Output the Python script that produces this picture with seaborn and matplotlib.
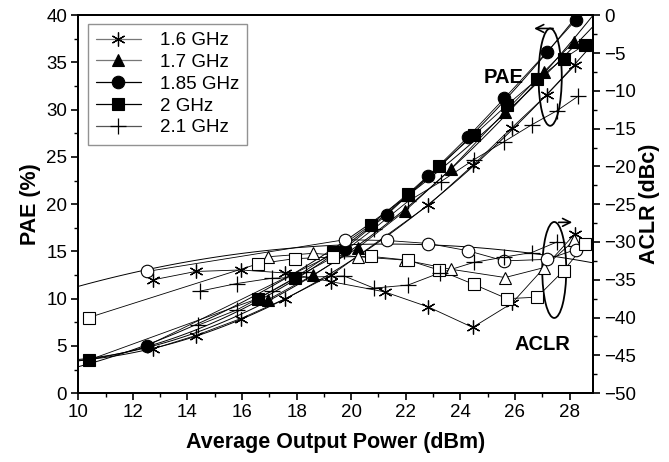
import numpy as np
import pandas as pd
import matplotlib
matplotlib.use("Agg")
import matplotlib.pyplot as plt
from matplotlib.lines import Line2D
from matplotlib.patches import Ellipse, FancyArrowPatch
import seaborn as sns

# ==============
# DADOS
# ==============

freq_labels = ["1.6 GHz", "1.7 GHz", "1.85 GHz", "2 GHz", "2.1 GHz"]

# PAE (%) - eixo esquerdo
x_pae_16 = [12.75, 14.30, 15.96, 17.59, 19.27, 22.83, 24.45, 25.89, 27.17, 28.20]
pae_16 = [4.7, 6.1, 7.9, 10.0, 12.5, 19.9, 24.1, 28.1, 31.6, 34.7]

x_pae_17 = [16.96, 18.60, 20.25, 21.98, 23.64, 25.64, 27.05, 28.17]
pae_17 = [9.9, 12.5, 15.4, 19.3, 23.7, 29.8, 34.0, 37.2]

x_pae_185 = [12.51, 19.76, 21.32, 22.83, 24.27, 25.61, 27.17, 28.23]
pae_185 = [5.0, 15.3, 18.9, 23.0, 27.1, 31.2, 36.1, 39.5]

x_pae_20 = [10.38, 16.57, 17.93, 19.34, 20.71, 22.08, 23.20, 24.49, 25.71, 26.81, 27.78, 28.57]
pae_20 = [3.5, 10.0, 12.2, 14.95, 17.8, 21.1, 24.0, 27.3, 30.5, 33.2, 35.4, 36.9]

x_pae_21 = [14.40, 15.80, 17.10, 18.36, 19.74, 20.83, 22.08, 23.29, 24.49, 25.59, 26.61, 27.54, 28.30]
pae_21 = [7.2, 8.8, 10.8, 12.85, 15.0, 17.4, 20.3, 22.4, 24.7, 26.6, 28.4, 29.9, 31.4]

# ACLR (dBc) - eixo direito
x_aclr_16 = [12.75, 14.30, 15.96, 17.57, 19.27, 21.23, 22.83, 24.45, 25.89, 28.20]
aclr_16 = [-35.0, -33.9, -33.7, -34.1, -35.25, -36.6, -38.6, -41.3, -38.1, -28.9]

x_aclr_17 = [16.96, 18.60, 20.25, 21.98, 23.64, 25.64, 27.05, 28.17]
aclr_17 = [-31.95, -31.5, -31.95, -32.4, -33.6, -34.7, -33.4, -29.8]

x_aclr_185 = [12.51, 19.76, 21.32, 22.83, 24.27, 25.61, 27.17, 28.23]
aclr_185 = [-33.9, -29.7, -29.8, -30.2, -31.15, -32.5, -32.3, -31.0]

x_aclr_20 = [10.38, 16.57, 17.93, 19.34, 20.71, 22.08, 23.20, 24.49, 25.71, 26.81, 27.78, 28.57]
aclr_20 = [-40.0, -32.9, -32.2, -32.0, -31.9, -32.4, -33.7, -35.6, -37.5, -37.3, -33.8, -30.3]

x_aclr_21 = [14.46, 15.80, 17.08, 19.74, 20.83, 22.08, 23.24, 24.49, 25.59, 26.61, 27.54]
aclr_21 = [-36.5, -35.5, -34.8, -34.5, -36.1, -35.7, -34.1, -32.7, -32.0, -31.4, -30.0]

x_ticks = [10, 12, 14, 16, 18, 20, 22, 24, 26, 28]
pae_ticks = [0, 5, 10, 15, 20, 25, 30, 35, 40]
aclr_ticks = [-50, -45, -40, -35, -30, -25, -20, -15, -10, -5, 0]


# ==============
# ESTILO
# ==============

sns.set_theme(style="white")
plt.rcParams["font.family"] = ["Liberation Sans", "DejaVu Sans"]
plt.rcParams["axes.linewidth"] = 1.4
for chave in ["text.color", "axes.labelcolor", "xtick.color", "ytick.color", "axes.edgecolor"]:
    plt.rcParams[chave] = "black"

asterisco = (6, 2, 0)
estilos = {
    "1.6 GHz": dict(marker=asterisco, ms=10, mfc="black", mec="black", mew=0.9),
    "1.7 GHz": dict(marker="^", ms=9, mfc="black", mec="black", mew=0.8),
    "1.85 GHz": dict(marker="o", ms=9, mfc="black", mec="black", mew=0.8),
    "2 GHz": dict(marker="s", ms=8, mfc="black", mec="black", mew=0.8),
    "2.1 GHz": dict(marker="+", ms=12, mfc="black", mec="black", mew=0.9),
}
estilos_abertos = {
    "1.6 GHz": dict(marker=asterisco, ms=10, mfc="black", mec="black", mew=0.9),
    "1.7 GHz": dict(marker="^", ms=9, mfc="white", mec="black", mew=0.8),
    "1.85 GHz": dict(marker="o", ms=9, mfc="white", mec="black", mew=0.8),
    "2 GHz": dict(marker="s", ms=8, mfc="white", mec="black", mew=0.8),
    "2.1 GHz": dict(marker="+", ms=12, mfc="black", mec="black", mew=0.9),
}

series_pae = [(x_pae_16, pae_16), (x_pae_17, pae_17), (x_pae_185, pae_185),
              (x_pae_20, pae_20), (x_pae_21, pae_21)]
series_aclr = [(x_aclr_16, aclr_16), (x_aclr_17, aclr_17), (x_aclr_185, aclr_185),
               (x_aclr_20, aclr_20), (x_aclr_21, aclr_21)]
# quais curvas de PAE recebem ajuste estendido até a borda esquerda
com_ajuste = ["1.6 GHz", "1.7 GHz", "1.85 GHz", "2 GHz"]


# ==============
# GRÁFICO
# ==============

fig, ax = plt.subplots(figsize=(6.69, 4.62), dpi=100)
fig.subplots_adjust(left=0.117, right=0.886, bottom=0.149, top=0.967)
ax2 = ax.twinx()

ax.set_xlim(10, 28.85)
ax.set_ylim(0, 40)
ax2.set_ylim(-50, 0)

linha = dict(color="black", lw=0.7)

# PAE: ajuste polinomial (estende até a borda) + segmentos entre pontos
for nome, (xs, ys) in zip(freq_labels, series_pae):
    df = pd.DataFrame({"x": xs, "y": ys})
    if nome in com_ajuste:
        sns.regplot(data=df, x="x", y="y", order=2, ci=None, scatter=False,
                    truncate=False, line_kws=linha, ax=ax)
    sns.lineplot(data=df, x="x", y="y", ax=ax, lw=0.6, color="black", sort=True)
    ax.plot(xs, ys, ls="none", zorder=5, **estilos[nome])

# ACLR: segmentos + marcadores abertos
for nome, (xs, ys) in zip(freq_labels, series_aclr):
    df = pd.DataFrame({"x": xs, "y": ys})
    sns.lineplot(data=df, x="x", y="y", ax=ax2, lw=0.6, color="black", sort=True)
    ax2.plot(xs, ys, ls="none", zorder=5, **estilos_abertos[nome])

# curva ajustada do 1.85 GHz (ACLR) que se estende à esquerda
df185 = pd.DataFrame({"x": x_aclr_185, "y": aclr_185})
sns.regplot(data=df185, x="x", y="y", order=2, ci=None, scatter=False,
            truncate=False, line_kws=linha, ax=ax2)
ax2.set_xlim(10, 28.85)

# eixos e ticks
ax.set_xticks(x_ticks)
ax.set_xticks(np.arange(10, 29, 1), minor=True)
ax.set_yticks(pae_ticks)
ax.set_yticks(np.arange(0, 40.1, 2.5), minor=True)
ax2.set_yticks(aclr_ticks)
ax2.set_yticks(np.arange(-50, 0.1, 2.5), minor=True)
for a in (ax, ax2):
    a.tick_params(which="major", direction="out", length=5, width=1.2, labelsize=13.5, pad=3)
    a.tick_params(which="minor", direction="out", length=3, width=1.0)
    for s in a.spines.values():
        s.set_linewidth(1.4)
        s.set_color("black")
ax.tick_params(left=True, bottom=True, which="both")
ax2.tick_params(right=True, which="both", pad=3)

ax.set_xlabel("Average Output Power (dBm)", fontsize=15.5, fontweight="bold", labelpad=8)
ax.set_ylabel("PAE (%)", fontsize=15.5, fontweight="bold", labelpad=4)
ax2.set_ylabel("ACLR (dBc)", fontsize=15.5, fontweight="bold", labelpad=2)

# anotações PAE / ACLR
ax.text(25.6, 33.4, "PAE", fontsize=14.5, fontweight="bold", ha="center", va="center")
ax.add_patch(Ellipse((27.29, 33.45), 0.85, 10.3, fill=False, lw=1.3, color="black"))
ax.add_patch(FancyArrowPatch((27.5, 38.6), (26.6, 38.6), arrowstyle="->",
                             mutation_scale=14, lw=1.2, color="black"))
ax2.text(27.0, -43.6, "ACLR", fontsize=14.5, fontweight="bold", ha="center", va="center")
ax2.add_patch(Ellipse((27.44, -33.7), 0.88, 12.7, fill=False, lw=1.3, color="black"))
ax2.add_patch(FancyArrowPatch((27.5, -27.4), (28.2, -27.4), arrowstyle="->",
                              mutation_scale=14, lw=1.2, color="black"))

# legenda
handles = []
cores_linha = ["#777777", "#777777", "black", "black", "#555555"]
for nome, cor in zip(freq_labels, cores_linha):
    handles.append(Line2D([], [], color=cor, lw=0.9, **estilos[nome]))
leg = ax2.legend(handles, freq_labels, loc="upper left", fontsize=13.5,
                 frameon=True, fancybox=False, edgecolor="#777777",
                 handlelength=2.4, handletextpad=1.0, labelspacing=0.25,
                 borderpad=0.45, borderaxespad=0, bbox_to_anchor=(0.018, 0.978))
leg.get_frame().set_linewidth(1.0)

plt.savefig("out.png", dpi=100)
plt.close()
